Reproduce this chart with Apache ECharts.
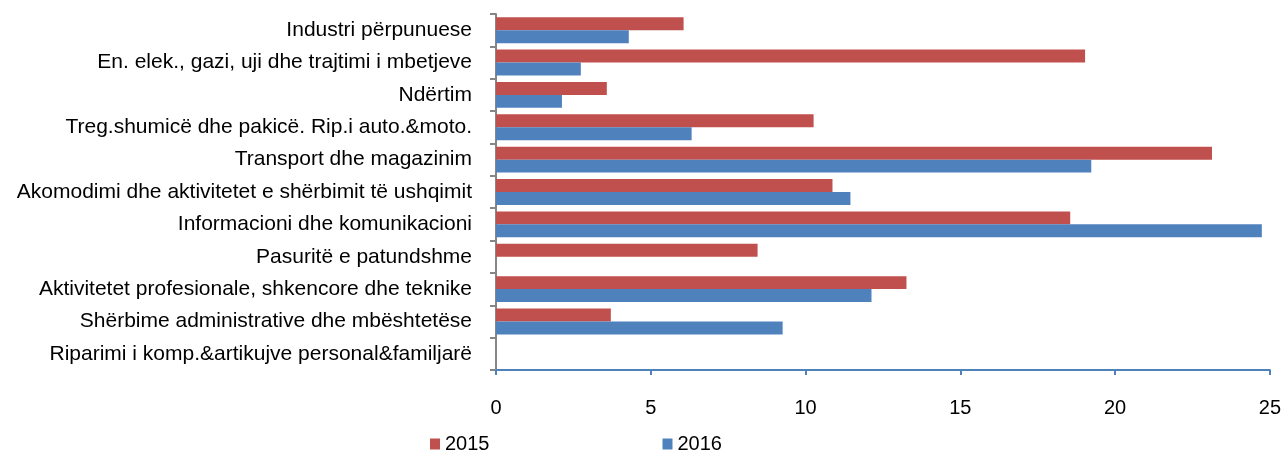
<!DOCTYPE html>
<html>
<head>
<meta charset="utf-8">
<script src="https://cdn.jsdelivr.net/npm/echarts@6/dist/echarts.min.js"></script>
<style>
html,body{margin:0;padding:0;background:#fff;}
#chart{width:1284px;height:453px;}
</style>
</head>
<body>
<div id="chart"></div>
<script>
var categories = [
    'Industri përpunuese',
    'En. elek., gazi, uji dhe trajtimi i mbetjeve',
    'Ndërtim',
    'Treg.shumicë dhe pakicë. Rip.i auto.&moto.',
    'Transport dhe magazinim',
    'Akomodimi dhe aktivitetet e shërbimit të ushqimit',
    'Informacioni dhe komunikacioni',
    'Pasuritë e patundshme',
    'Aktivitetet profesionale, shkencore dhe teknike',
    'Shërbime administrative dhe mbështetëse',
    'Riparimi i komp.&artikujve personal&familjarë'
];
var values2015 = [6.06, 19.03, 3.58, 10.26, 23.13, 10.87, 18.55, 8.45, 13.26, 3.71, 0];
var values2016 = [4.29, 2.74, 2.13, 6.32, 19.23, 11.45, 24.74, 0, 12.13, 9.26, 0];
var xTicks = [0, 5, 10, 15, 20, 25];

var font = 'Liberation Sans, Arial, sans-serif';

var myChart = echarts.init(document.getElementById('chart'));
var option = {
    animation: false,
    color: ['#C0504D', '#4F81BD'],
    grid: {left: 496, right: 12, top: 14, bottom: 83},
    legend: {
        data: ['2015', '2016'],
        left: 430,
        top: 434,
        padding: 0,
        icon: 'rect',
        itemWidth: 10,
        itemHeight: 11,
        itemGap: 173,
        textStyle: {fontFamily: font, fontSize: 20, color: '#000'}
    },
    xAxis: {
        type: 'value',
        min: xTicks[0],
        max: xTicks[xTicks.length - 1],
        interval: 5,
        splitLine: {show: false},
        axisLine: {show: true, lineStyle: {color: '#4F81BD', width: 2}},
        axisTick: {show: true, length: 5, lineStyle: {color: '#4F81BD', width: 2}},
        axisLabel: {fontFamily: font, fontSize: 20, color: '#000', margin: 28}
    },
    yAxis: {
        type: 'category',
        data: categories,
        inverse: true,
        axisLine: {lineStyle: {color: '#868686', width: 2}},
        axisTick: {show: true, length: 6, lineStyle: {color: '#868686', width: 2}},
        axisLabel: {fontFamily: font, fontSize: 21, color: '#000', margin: 24}
    },
    series: [
        {
            name: '2015',
            type: 'bar',
            data: values2015,
            barGap: '0%',
            barCategoryGap: '20%'
        },
        {
            name: '2016',
            type: 'bar',
            data: values2016,
            barGap: '0%',
            barCategoryGap: '20%'
        }
    ]
};
myChart.setOption(option);
</script>
</body>
</html>
